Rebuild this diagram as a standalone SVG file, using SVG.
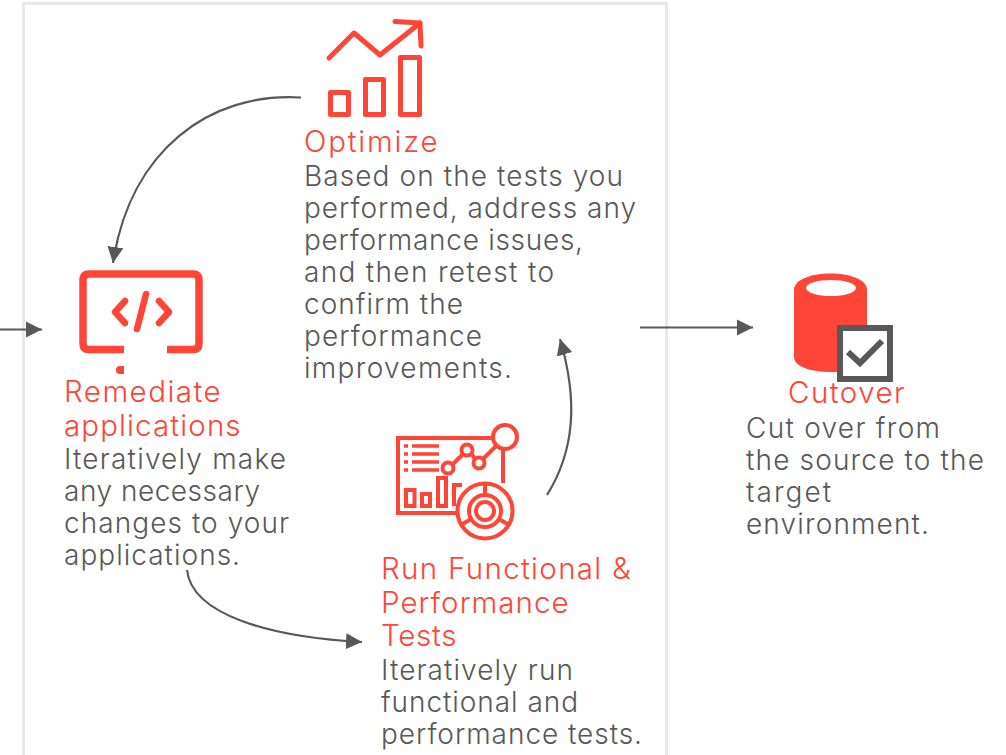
<svg xmlns="http://www.w3.org/2000/svg" width="1006" height="755" viewBox="0 0 1006 755">
<style>
text{font-family:"Inter","Open Sans","Liberation Sans",sans-serif;font-weight:300;font-size:28px;letter-spacing:1px}
.t{fill:#ff4438;font-size:29.500px;letter-spacing:1.400px}
.b{fill:#58585a}
.c{fill:none;stroke:#58585a;stroke-width:2.200}
.r{fill:none;stroke:#ff4438;stroke-linecap:round;stroke-linejoin:round}
</style>
<defs><marker id="a" markerUnits="userSpaceOnUse" markerWidth="17" markerHeight="17" refX="16" refY="8.500" orient="auto"><path d="M0 0.500L16 8.500L0 16.500Z" fill="#58585a"/></marker></defs>
<rect width="1006" height="755" fill="#fff"/>
<rect id="frame" x="23.500" y="3.500" width="643" height="770" fill="none" stroke="#e8e8e8" stroke-width="3"/>
<g id="connectors">
<path class="c" d="M0 329.500H42" marker-end="url(#a)"/>
<path class="c" d="M301 97.500C210 92 130 150 113 263" marker-end="url(#a)"/>
<path class="c" d="M187 570C192 615 270 637 362 642" marker-end="url(#a)"/>
<path class="c" d="M547 495C575 450 578 400 560 339" marker-end="url(#a)"/>
<path class="c" d="M640 327.500H753" marker-end="url(#a)"/>
</g>
<g id="optimize">
<g class="r" stroke-width="5"><path d="M329 58L354 33L380 55L420 23"/><path d="M395 21.500L420 23L421 46"/><rect x="330.500" y="92.500" width="18" height="22"/><rect x="365.500" y="79.500" width="18" height="35"/><rect x="400.500" y="57.500" width="19" height="57"/></g>
<text class="t" x="304" y="152" textLength="135">Optimize</text>
<text class="b" x="304" y="186" textLength="320">Based on the tests you</text>
<text class="b" x="304" y="218" textLength="333">performed, address any</text>
<text class="b" x="304" y="250" textLength="280">performance issues,</text>
<text class="b" x="304" y="282" textLength="251">and then retest to</text>
<text class="b" x="304" y="314" textLength="160">confirm the</text>
<text class="b" x="304" y="346" textLength="179">performance</text>
<text class="b" x="304" y="378" textLength="209">improvements.</text>
</g>
<g id="remediate">
<path d="M124 349.500H89Q83 349.500 83 343.500V280Q83 274 89 274H193Q199 274 199 280V343.500Q199 349.500 193 349.500H167" fill="none" stroke="#ff4438" stroke-width="7.500"/>
<g class="r" stroke-width="6.500"><path d="M125 301L115 312L125 323M159 301L169 312L159 323M146 294L137 329"/></g>
<path d="M124 366V374H120A4 4 0 0 1 120 366Z" fill="#ff4438"/>
<text class="t" x="64" y="402" textLength="158">Remediate</text>
<text class="t" x="64" y="436" textLength="178">applications</text>
<text class="b" x="64" y="469" textLength="223">Iteratively make</text>
<text class="b" x="64" y="501" textLength="197">any necessary</text>
<text class="b" x="64" y="533" textLength="226">changes to your</text>
<text class="b" x="64" y="565" textLength="177">applications.</text>
</g>
<g id="tests">
<g fill="none" stroke="#ff4438" stroke-width="4">
<path d="M493 438H398V513H457M503 449V483"/>
<path d="M404 446H408M404 454H408M404 462H408M404 470H408" stroke-width="3.500"/>
<path d="M412 446H439M412 454H439M412 462H439M412 470H439" stroke-width="3.500"/>
<path d="M452 465L463 454M471 453L475 459M483 459L496 446"/>
<circle cx="448" cy="468" r="5.500"/><circle cx="467" cy="450" r="5.500"/><circle cx="479" cy="463" r="5.500"/>
<circle cx="505" cy="437" r="12"/>
<rect x="406" y="490" width="8.500" height="16"/><rect x="422" y="494" width="8" height="12"/><rect x="438" y="478" width="8" height="28"/><path d="M454 506V485H462"/>
<circle cx="485" cy="511" r="27.500"/><circle cx="485" cy="511" r="16"/><circle cx="485" cy="511" r="9"/>
<path d="M485 484V495M461 525L471 519M509 525L499 519"/>
</g>
<text class="t" x="381" y="579" textLength="251">Run Functional &amp;</text>
<text class="t" x="381" y="613" textLength="189">Performance</text>
<text class="t" x="381" y="646" textLength="77">Tests</text>
<text class="b" x="381" y="680" textLength="193">Iteratively run</text>
<text class="b" x="381" y="712" textLength="198">functional and</text>
<text class="b" x="381" y="744" textLength="262">performance tests.</text>
</g>
<g id="cutover">
<path d="M794 290C794 268 867 268 867 290V357C867 377 794 377 794 357Z" fill="#ff4438"/>
<ellipse cx="831" cy="288" rx="25" ry="8" fill="#fff"/>
<rect x="840" y="328" width="50" height="51" fill="#fff" stroke="#58585a" stroke-width="6"/>
<path d="M848 352L860 363L882 341" fill="none" stroke="#58585a" stroke-width="6"/>
<text class="t" x="788" y="403" textLength="118">Cutover</text>
<text class="b" x="746" y="438" textLength="195">Cut over from</text>
<text class="b" x="746" y="470" textLength="239">the source to the</text>
<text class="b" x="746" y="502" textLength="86">target</text>
<text class="b" x="746" y="534" textLength="184">environment.</text>
</g>
</svg>
